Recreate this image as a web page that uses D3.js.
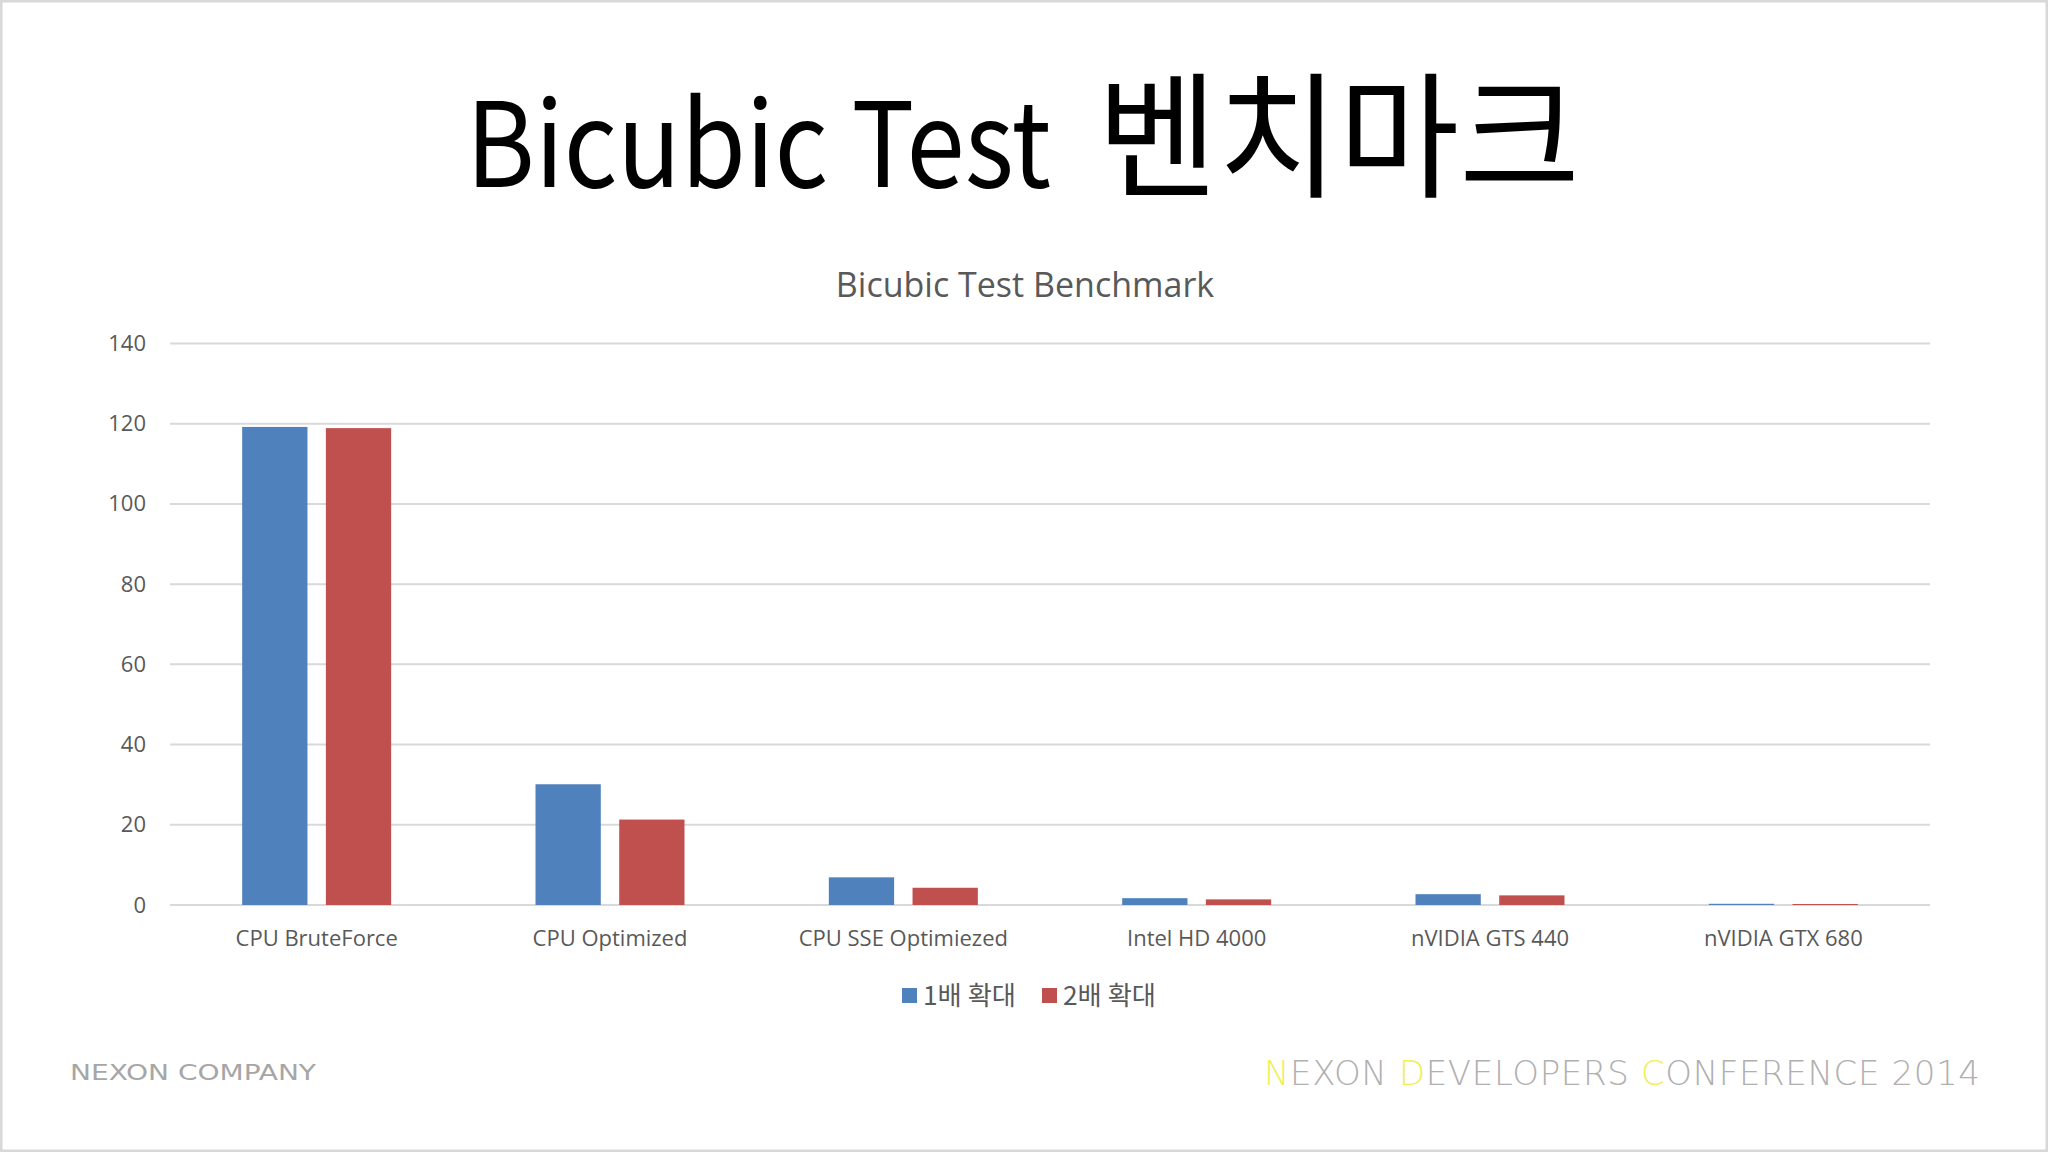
<!DOCTYPE html>
<html>
<head>
<meta charset="utf-8">
<script src="https://cdn.jsdelivr.net/npm/d3@7"></script>
<style>
  body { margin: 0; background: #fff; }
  svg { display: block; }
</style>
</head>
<body>
<svg id="chart" width="2048" height="1152"></svg>
<script>
const categories = ["CPU BruteForce", "CPU Optimized", "CPU SSE Optimiezed", "Intel HD 4000", "nVIDIA GTS 440", "nVIDIA GTX 680"];
const seriesNames = ["1배 확대", "2배 확대"];
const scale1x = [119.2, 30.1, 6.9, 1.7, 2.7, 0.3];
const scale2x = [118.9, 21.3, 4.3, 1.4, 2.4, 0.25];
const yTicks = [0, 20, 40, 60, 80, 100, 120, 140];
const colors = ["#4f81bd", "#c0504d"];

const svg = d3.select("#chart");
const latin = "'Open Sans', 'Noto Sans', sans-serif";
const korean = "'Noto Sans CJK KR', 'Noto Sans', sans-serif";

// slide border
svg.append("rect")
  .attr("x", 1).attr("y", 1)
  .attr("width", 2046).attr("height", 1150)
  .attr("fill", "none")
  .attr("stroke", "#d8d8d8")
  .attr("stroke-width", 3);

// slide title, latin and hangul parts sized separately
svg.append("text")
  .attr("x", 466)
  .attr("y", 187)
  .attr("font-family", korean)
  .attr("font-size", 118)
  .attr("textLength", 585)
  .attr("lengthAdjust", "spacingAndGlyphs")
  .attr("fill", "#000")
  .text("Bicubic Test");
svg.append("text")
  .attr("x", 1097)
  .attr("y", 187)
  .attr("font-family", korean)
  .attr("font-size", 136)
  .attr("textLength", 483)
  .attr("lengthAdjust", "spacingAndGlyphs")
  .attr("fill", "#000")
  .text("벤치마크");

// chart title
svg.append("text")
  .attr("x", 1025)
  .attr("y", 297)
  .attr("text-anchor", "middle")
  .attr("font-family", latin)
  .attr("font-size", 34)
  .attr("fill", "#595959")
  .text("Bicubic Test Benchmark");

const x0 = d3.scaleBand().domain(categories).range([170, 1930]);
const x1 = d3.scaleBand().domain(seriesNames)
  .range([x0.bandwidth() / 2 - 74.5, x0.bandwidth() / 2 + 74.5])
  .paddingInner(0.22);
const y = d3.scaleLinear().domain([0, 140]).range([905, 343.5]);

// grid
svg.append("g")
  .selectAll("line")
  .data(yTicks)
  .enter()
  .append("line")
  .attr("x1", 170)
  .attr("x2", 1930)
  .attr("y1", (d) => y(d))
  .attr("y2", (d) => y(d))
  .attr("stroke", "#d9d9d9")
  .attr("stroke-width", 2);

// y axis labels
const yAxis = d3.axisLeft(y).tickValues(yTicks).tickSize(0).tickPadding(0);
svg.append("g")
  .attr("transform", "translate(146,0)")
  .call(yAxis)
  .call((g) => g.select(".domain").remove())
  .selectAll("text")
  .attr("font-family", latin)
  .attr("font-size", 22)
  .attr("fill", "#595959");

// bars
const rows = categories.map((c, i) => ({ category: c, values: [scale1x[i], scale2x[i]] }));
const group = svg.append("g")
  .selectAll("g")
  .data(rows)
  .enter()
  .append("g")
  .attr("transform", (d) => `translate(${x0(d.category)},0)`);
group.selectAll("rect")
  .data((d) => d.values.map((v, i) => ({ name: seriesNames[i], value: v, color: colors[i] })))
  .enter()
  .append("rect")
  .attr("x", (d) => x1(d.name))
  .attr("width", x1.bandwidth())
  .attr("y", (d) => y(d.value))
  .attr("height", (d) => y(0) - y(d.value))
  .attr("fill", (d) => d.color);

// category labels
const xAxis = d3.axisBottom(x0).tickSize(0).tickPadding(0);
svg.append("g")
  .attr("transform", "translate(0,938)")
  .call(xAxis)
  .call((g) => g.select(".domain").remove())
  .selectAll("text")
  .attr("dy", "0.35em")
  .attr("font-family", latin)
  .attr("font-size", 22)
  .attr("fill", "#595959");

// legend
const legendX = [902, 1042];
const legend = svg.append("g")
  .selectAll("g")
  .data(seriesNames)
  .enter()
  .append("g")
  .attr("transform", (d, i) => `translate(${legendX[i]},988)`);
legend.append("rect")
  .attr("width", 15)
  .attr("height", 15)
  .attr("fill", (d, i) => colors[i]);
legend.append("text")
  .attr("x", 21)
  .attr("y", 8)
  .attr("dy", "0.35em")
  .attr("font-family", korean)
  .attr("font-size", 26)
  .attr("textLength", 93)
  .attr("lengthAdjust", "spacingAndGlyphs")
  .attr("fill", "#595959")
  .text((d) => d);

// footer
svg.append("text")
  .attr("x", 70)
  .attr("y", 1080)
  .attr("font-family", "'DejaVu Sans', sans-serif")
  .attr("font-stretch", "condensed")
  .attr("font-size", 21)
  .attr("textLength", 246)
  .attr("lengthAdjust", "spacingAndGlyphs")
  .attr("fill", "#a6a6a6")
  .text("NEXON COMPANY");

const footerWords = [["N", "EXON"], ["D", "EVELOPERS"], ["C", "ONFERENCE"], ["", "2014"]];
const footer = svg.append("text")
  .attr("x", 1264)
  .attr("y", 1085)
  .attr("font-family", "'DejaVu Sans', sans-serif")
  .attr("font-stretch", "condensed")
  .attr("font-weight", 200)
  .attr("font-size", 34)
  .attr("textLength", 716)
  .attr("lengthAdjust", "spacing")
  .attr("fill", "#b0b0b0");
footerWords.forEach((w, i) => {
  footer.append("tspan").attr("fill", "#f2ee5a").text((i > 0 ? "  " : "") + w[0]);
  footer.append("tspan").text(w[1]);
});
</script>
</body>
</html>
